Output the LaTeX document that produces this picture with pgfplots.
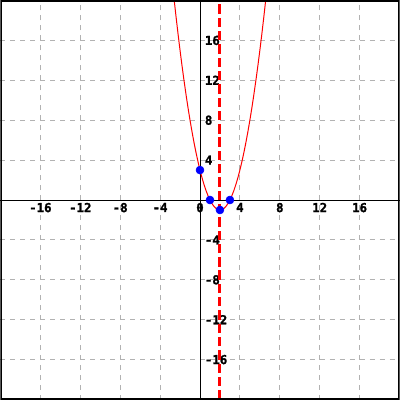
\documentclass[border=0pt]{standalone}
\usepackage{pgfplots}
\pgfplotsset{compat=1.18}
\usepackage{fontspec}
\newfontfamily\lblfont[FakeBold=1.5]{DejaVu Sans Mono Bold}
\begin{document}
\begin{tikzpicture}
\begin{axis}[
  width=300pt, height=300pt, scale only axis,
  xmin=-20, xmax=20, ymin=-20, ymax=20,
  axis lines=middle,
  hide obscured x ticks=false,
  axis line style={-, black, line width=0.75pt},
  xtick={-16,-12,-8,-4,0,4,8,12,16},
  ytick={-16,-12,-8,-4,4,8,12,16},
  grid=major,
  major grid style={color=gray!60, dash pattern=on 3.75pt off 3.75pt, line width=0.75pt},
  major tick length=0pt,
  tick style={draw=none},
  /pgf/number format/assume math mode=true,
  ticklabel style={font=\lblfont\fontsize{9.3}{10}\selectfont, inner sep=1.5pt},
  xticklabel style={anchor=north, yshift=-0.5pt},
  yticklabel style={anchor=west, xshift=2pt},
]
\addplot[red, line width=0.75pt] coordinates {
(-2.6,20.16) (-2.4,18.36) (-2.2,16.64) (-2.0,15) (-1.8,13.44) (-1.6,11.96)
(-1.4,10.56) (-1.2,9.24) (-1.0,8) (-0.8,6.84) (-0.6,5.76) (-0.4,4.76)
(-0.2,3.84) (0,3) (0.2,2.24) (0.4,1.56) (0.6,0.96) (0.8,0.44) (1.0,0)
(1.2,-0.36) (1.4,-0.64) (1.6,-0.84) (1.8,-0.96) (2.0,-1) (2.2,-0.96)
(2.4,-0.84) (2.6,-0.64) (2.8,-0.36) (3.0,0) (3.2,0.44) (3.4,0.96)
(3.6,1.56) (3.8,2.24) (4.0,3) (4.2,3.84) (4.4,4.76) (4.6,5.76)
(4.8,6.84) (5.0,8) (5.2,9.24) (5.4,10.56) (5.6,11.96) (5.8,13.44)
(6.0,15) (6.2,16.64) (6.4,18.36) (6.6,20.16)
};
\addplot[red, line width=2.25pt, dash pattern=on 7pt off 3pt] coordinates {(2,-20) (2,20)};
\addplot[only marks, mark=*, mark size=3pt, blue, mark options={fill=blue, draw=blue}] coordinates {(0,3) (1,0) (2,-1) (3,0)};
\draw[black, line width=1.6pt] (rel axis cs:0,0) rectangle (rel axis cs:1,1);
\end{axis}
\end{tikzpicture}
\end{document}
